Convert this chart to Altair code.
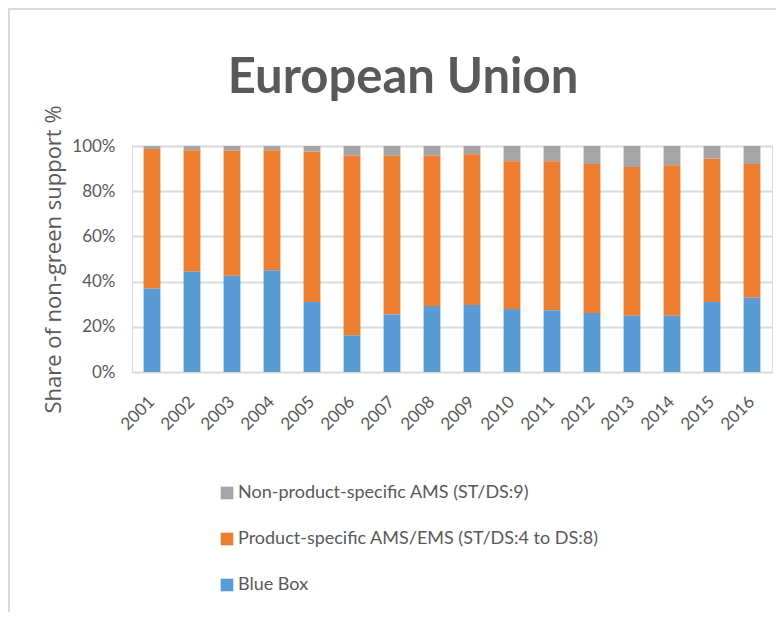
import altair as alt
import pandas as pd

years = [str(y) for y in range(2001, 2017)]
blue_box = [37.0, 44.4, 42.6, 45.0, 31.0, 16.2, 25.4, 29.2, 29.6, 27.9, 27.3, 26.1, 24.9, 24.9, 31.0, 32.9]
product_specific = [61.7, 53.7, 55.3, 53.1, 66.5, 79.5, 70.3, 66.5, 66.7, 65.3, 65.9, 65.9, 65.8, 66.6, 63.4, 59.1]
non_product = [1.3, 1.9, 2.1, 1.9, 2.5, 4.3, 4.3, 4.3, 3.7, 6.8, 6.8, 8.0, 9.3, 8.5, 5.6, 8.0]

chart_title = "European Union"
series_names = [
    "Non-product-specific AMS (ST/DS:9)",
    "Product-specific AMS/EMS (ST/DS:4 to DS:8)",
    "Blue Box",
]
series_colors = ["#A5A5A5", "#ED7D31", "#5B9BD5"]
stack_rank = {"Blue Box": 0, "Product-specific AMS/EMS (ST/DS:4 to DS:8)": 1,
              "Non-product-specific AMS (ST/DS:9)": 2}

rows = []
for i, y in enumerate(years):
    for name, vals in zip(series_names, [non_product, product_specific, blue_box]):
        rows.append({"year": y, "series": name, "share": vals[i], "rank": stack_rank[name]})
df = pd.DataFrame(rows)

FONT = "Lato"
GREY_TEXT = "#595959"

bars = alt.Chart(df).mark_bar().encode(
    x=alt.X("year:N", sort=years,
            scale=alt.Scale(paddingInner=0.58, paddingOuter=0.29),
            axis=alt.Axis(title=None, labelAngle=315, labelAlign="right", labelBaseline="middle",
                          labelFont=FONT, labelFontSize=17, labelColor=GREY_TEXT,
                          labelPadding=27, ticks=False, tickSize=0, domain=False, grid=False)),
    y=alt.Y("share:Q", stack="zero",
            scale=alt.Scale(domain=[0, 100], nice=False),
            axis=alt.Axis(title="Share of non-green support %", values=[0, 20, 40, 60, 80, 100],
                          labelExpr="datum.value + '%'", labelFont=FONT, labelFontSize=17,
                          labelColor=GREY_TEXT, labelPadding=17, ticks=False, tickSize=0,
                          domain=False, grid=True, gridColor="#d9d9d9", gridWidth=2,
                          titleFont="Open Sans", titleFontSize=22, titleFontWeight="normal",
                          titleColor=GREY_TEXT, titleAngle=270, titleX=-79, titleY=113,
                          titleAlign="center", titleBaseline="middle")),
    color=alt.Color("series:N",
                    scale=alt.Scale(domain=series_names, range=series_colors),
                    legend=alt.Legend(title=None, orient="none", legendX=86, legendY=338,
                                      direction="vertical", symbolType="square", symbolSize=160,
                                      symbolStrokeWidth=0, labelFont=FONT, labelFontSize=18,
                                      labelColor=GREY_TEXT, rowPadding=28, labelOffset=2,
                                      labelLimit=500)),
    order=alt.Order("rank:Q", sort="ascending"),
)

frame = pd.DataFrame({"label": [chart_title]})
left_border = alt.Chart(frame).mark_rule(color="#d9d9d9", strokeWidth=2).encode(
    x=alt.value(-123), y=alt.value(-137), y2=alt.value(480))
top_border = alt.Chart(frame).mark_rule(color="#d9d9d9", strokeWidth=2).encode(
    x=alt.value(-124), x2=alt.value(660), y=alt.value(-137))
title_text = alt.Chart(frame).mark_text(
    font=FONT, fontSize=49, fontWeight="bold", color=GREY_TEXT,
    align="center", baseline="alphabetic").encode(
    text="label:N", x=alt.value(271), y=alt.value(-53))

chart = alt.layer(bars, left_border, top_border, title_text).properties(
    width=640, height=226,
    autosize=alt.AutoSizeParams(type="none"),
    padding={"left": 124, "top": 138, "right": 4, "bottom": 240},
).configure_view(stroke=None).configure(background="white")

chart.save("out.html", embed_options={"renderer": "svg", "actions": False})
